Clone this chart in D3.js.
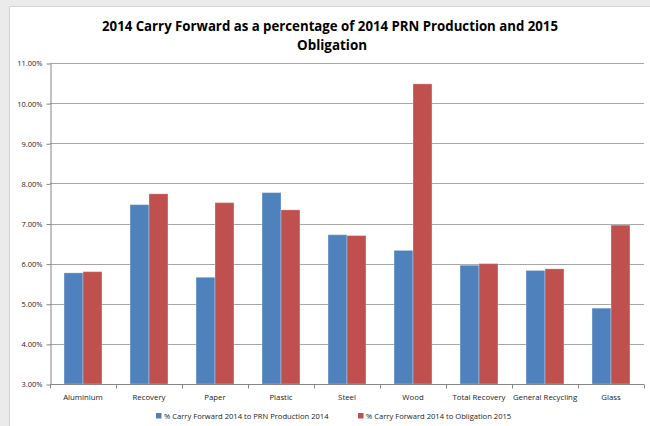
<!DOCTYPE html>
<html>
<head>
<meta charset="utf-8">
<script src="https://cdn.jsdelivr.net/npm/d3@7"></script>
<style>
  html, body { margin: 0; padding: 0; background: #ebebeb; }
  svg { display: block; font-family: "Open Sans", "Liberation Sans", sans-serif; }
</style>
</head>
<body>
<svg width="650" height="426"></svg>
<script>
// chart values (percent)
const categories = ["Aluminium", "Recovery", "Paper", "Plastic", "Steel", "Wood", "Total Recovery", "General Recycling", "Glass"];
const seriesNames = ["% Carry Forward 2014 to PRN Production 2014", "% Carry Forward 2014 to Obligation 2015"];
const prnProduction = [5.77, 7.47, 5.66, 7.77, 6.72, 6.33, 5.96, 5.83, 4.89];
const obligation = [5.80, 7.74, 7.52, 7.34, 6.70, 10.48, 6.00, 5.87, 6.96];
const yTicks = [3, 4, 5, 6, 7, 8, 9, 10, 11];
const colors = ["#4f81bd", "#c0504d"];

const MARGIN = { top: 63, left: 50, right: 6, bottom: 42 };
const W = 650, H = 426;

const svg = d3.select("svg");

// white chart panel on grey page
svg.append("rect")
  .attr("x", 9).attr("y", 6)
  .attr("width", W - 9).attr("height", H - 6)
  .attr("fill", "#fff");
svg.append("path")
  .attr("d", `M9.5,${H} V6.5 H${W}`)
  .attr("fill", "none")
  .attr("stroke", "#d2d2d2");

// title, two lines
svg.append("text")
  .attr("x", 330).attr("y", 31)
  .attr("text-anchor", "middle")
  .attr("font-weight", "bold")
  .attr("font-size", 14)
  .attr("textLength", 456).attr("lengthAdjust", "spacingAndGlyphs")
  .text("2014 Carry Forward as a percentage of 2014 PRN Production and 2015");
svg.append("text")
  .attr("x", 332).attr("y", 50)
  .attr("text-anchor", "middle")
  .attr("font-weight", "bold")
  .attr("font-size", 14)
  .attr("textLength", 70).attr("lengthAdjust", "spacingAndGlyphs")
  .text("Obligation");

const x = d3.scaleBand()
  .domain(categories)
  .range([MARGIN.left, W - MARGIN.right]);

const xSub = d3.scaleBand()
  .domain([0, 1])
  .range([0, x.bandwidth()])
  .paddingOuter(0.74);

const y = d3.scaleLinear()
  .domain([3, 11])
  .range([384, MARGIN.top]);

// gridlines
svg.append("g")
  .selectAll("line")
  .data(yTicks.slice(1))
  .join("line")
  .attr("x1", MARGIN.left).attr("x2", W - MARGIN.right)
  .attr("y1", d => Math.round(y(d)) + 0.5)
  .attr("y2", d => Math.round(y(d)) + 0.5)
  .attr("stroke", "#a6a6a6");

// y axis
const yAxis = svg.append("g")
  .attr("transform", `translate(${MARGIN.left + 0.5},0.5)`)
  .call(d3.axisLeft(y).tickValues(yTicks).tickFormat(d => d.toFixed(2) + "%").tickSize(4).tickSizeOuter(0).tickPadding(4));
yAxis.select(".domain").attr("stroke", "#868686");
yAxis.selectAll(".tick line").attr("stroke", "#868686");
yAxis.selectAll("text").attr("font-size", 7.5).attr("fill", "#222").attr("font-family", "Open Sans, sans-serif");

// bars
const rows = categories.map((c, i) => ({ cat: c, vals: [prnProduction[i], obligation[i]] }));
const groups = svg.append("g")
  .selectAll("g")
  .data(rows)
  .join("g")
  .attr("transform", d => `translate(${x(d.cat)},0)`);

groups.selectAll("rect")
  .data(d => d.vals.map((v, s) => ({ v, s })))
  .join("rect")
  .attr("x", d => xSub(d.s))
  .attr("width", xSub.bandwidth())
  .attr("y", d => y(d.v))
  .attr("height", d => y(3) - y(d.v))
  .attr("fill", d => colors[d.s])
  .attr("stroke", "#fff")
  .attr("stroke-opacity", 0.3)
  .attr("stroke-width", 1);

// x axis
const xAxis = svg.append("g")
  .attr("transform", `translate(0,${y(3) + 0.5})`);
xAxis.append("line")
  .attr("x1", MARGIN.left).attr("x2", W - MARGIN.right)
  .attr("stroke", "#868686");
xAxis.selectAll(".tk")
  .data(d3.range(categories.length + 1))
  .join("line")
  .attr("class", "tk")
  .attr("x1", i => Math.round(MARGIN.left + i * x.step()) + 0.5)
  .attr("x2", i => Math.round(MARGIN.left + i * x.step()) + 0.5)
  .attr("y1", 0).attr("y2", 4)
  .attr("stroke", "#868686");
xAxis.selectAll("text")
  .data(categories)
  .join("text")
  .attr("x", d => x(d) + x.bandwidth() / 2)
  .attr("y", 15)
  .attr("text-anchor", "middle")
  .attr("font-size", 7.8)
  .attr("fill", "#222")
  .text(d => d);

// legend
const legendX = [156, 358];
const legend = svg.append("g")
  .selectAll("g")
  .data(seriesNames)
  .join("g")
  .attr("transform", (d, i) => `translate(${legendX[i]},413)`);
legend.append("rect")
  .attr("width", 5.5).attr("height", 5.5)
  .attr("fill", (d, i) => colors[i]);
legend.append("text")
  .attr("x", 8).attr("y", 5.5)
  .attr("font-size", 7.6)
  .attr("fill", "#222")
  .text(d => d);
</script>
</body>
</html>
